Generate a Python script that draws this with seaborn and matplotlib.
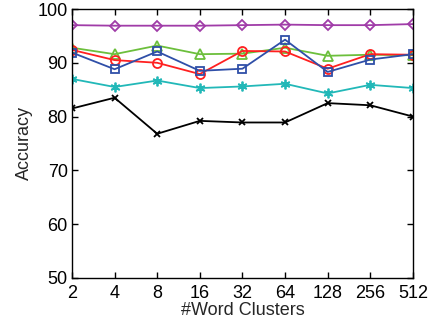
import matplotlib
matplotlib.use("Agg")
import matplotlib.pyplot as plt
import seaborn as sns
import pandas as pd

clusters = ["2", "4", "8", "16", "32", "64", "128", "256", "512"]
purple = [97.0, 96.9, 96.9, 96.9, 97.0, 97.1, 97.0, 97.0, 97.2]
green = [92.8, 91.6, 93.2, 91.6, 91.7, 92.8, 91.3, 91.5, 91.4]
red = [92.4, 90.5, 90.0, 87.9, 92.2, 92.1, 88.9, 91.6, 91.5]
blue = [91.9, 88.8, 92.1, 88.5, 88.9, 94.3, 88.3, 90.6, 91.6]
cyan = [87.0, 85.5, 86.7, 85.3, 85.6, 86.1, 84.3, 85.9, 85.3]
black = [81.5, 83.5, 76.8, 79.2, 78.9, 78.9, 82.5, 82.1, 80.0]

series = {
    "purple": (purple, "#a03ca8", "D", 5),
    "green": (green, "#6cbf3c", "^", 7),
    "red": (red, "#ff2020", "o", 6.5),
    "blue": (blue, "#2f4fa8", "s", 6),
    "cyan": (cyan, "#22b8b8", (6, 2, 0), 7),
    "black": (black, "#000000", "x", 5),
}

sns.set_style("white")
plt.rcParams["font.family"] = ["Liberation Sans", "DejaVu Sans"]

fig = plt.figure(figsize=(4.31, 3.22), dpi=100)
ax = fig.add_axes([0.167, 0.137, 0.791, 0.835])

for name, (vals, col, mk, ms) in series.items():
    df = pd.DataFrame({"x": list(range(len(clusters))), "y": vals})
    sns.lineplot(data=df, x="x", y="y", ax=ax, color=col, marker=mk,
                 markersize=ms, markerfacecolor="none", markeredgecolor=col,
                 markeredgewidth=1.3, linewidth=1.3)

ax.set_xlim(0, len(clusters) - 1)
ax.set_ylim(50, 100)
ax.set_xticks(range(len(clusters)))
ax.set_xticklabels(clusters)
ax.set_yticks([50, 60, 70, 80, 90, 100])
ax.tick_params(direction="in", length=4, width=1, labelsize=13,
               top=True, right=True, bottom=True, left=True, colors="black")
ax.tick_params(axis="x", pad=5)
ax.tick_params(axis="y", pad=3)
ax.set_xlabel("#Word Clusters", fontsize=13, labelpad=0)
ax.set_ylabel("Accuracy", fontsize=13, labelpad=3)
for s in ax.spines.values():
    s.set_color("black")
    s.set_linewidth(1.0)

fig.savefig("out.png", dpi=100)
